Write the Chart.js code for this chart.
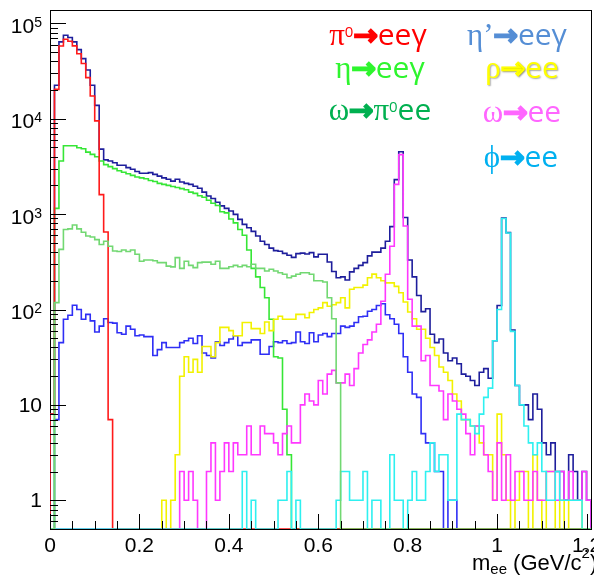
<!DOCTYPE html>
<html>
<head>
<meta charset="utf-8">
<script src="https://cdn.jsdelivr.net/npm/chart.js@4/dist/chart.umd.min.js"></script>
<style>
  html, body { margin: 0; padding: 0; background: #fff; }
  canvas { display: block; }
</style>
</head>
<body>
<canvas id="mee" width="594" height="577"></canvas>
<script>
// m_ee histograms, 0.01 GeV/c^2 bins starting at 0
const binWidth = 0.01;
const xMax = 1.21;
const yMin = 0.5;
const yMax = 1.38e5;

const pi0Eeg = [
  8, 20300, 57800, 68000, 65000, 58000, 48000, 38000, 27000, 17300,
  9500, 1600, 650, 7, 0, 0, 0, 0, 0, 0,
  0, 0, 0, 0, 0, 0, 0, 0, 0, 0,
  0, 0, 0, 0, 0, 0, 0, 0, 0, 0,
  0, 0, 0, 0, 0, 0, 0, 0, 0, 0,
  0, 0, 0, 0, 0, 0, 0, 0, 0, 0,
  0, 0, 0, 0, 0, 0, 0, 0, 0, 0,
  0, 0, 0, 0, 0, 0, 0, 0, 0, 0,
  0, 0, 0, 0, 0, 0, 0, 0, 0, 0,
  0, 0, 0, 0, 0, 0, 0, 0, 0, 0,
  0, 0, 0, 0, 0, 0, 0, 0, 0, 0,
  0, 0, 0, 0, 0, 0, 0, 0, 0, 0,
  0
];
const etaEeg = [
  0, 1150, 3600, 5200, 5200, 5200, 4970, 4850, 4470, 4230,
  4000, 3600, 3300, 3150, 3000, 2850, 2750, 2650, 2550, 2450,
  2400, 2350, 2250, 2200, 2100, 2050, 2000, 1950, 1900, 1850,
  1800, 1700, 1650, 1560, 1500, 1400, 1300, 1230, 1060, 1030,
  890, 810, 690, 600, 420, 270, 220, 170, 133, 79,
  32, 31, 9, 3, 0, 0, 0, 0, 0, 0,
  0, 0, 0, 0, 0, 0, 0, 0, 0, 0,
  0, 0, 0, 0, 0, 0, 0, 0, 0, 0,
  0, 0, 0, 0, 0, 0, 0, 0, 0, 0,
  0, 0, 0, 0, 0, 0, 0, 0, 0, 0,
  0, 0, 0, 0, 0, 0, 0, 0, 0, 0,
  0, 0, 0, 0, 0, 0, 0, 0, 0, 0,
  0
];
const omegaPi0ee = [
  0, 118, 427, 690, 700, 770, 700, 645, 590, 575,
  540, 480, 520, 460, 410, 405, 420, 405, 420, 380,
  320, 330, 330, 325, 310, 310, 285, 280, 350, 270,
  320, 290, 275, 310, 314, 314, 298, 320, 270, 270,
  281, 290, 281, 290, 281, 298, 270, 270, 253, 264,
  253, 243, 234, 215, 224, 234, 243, 243, 234, 200,
  200, 194, 133, 80, 17, 0, 0, 0, 0, 0,
  0, 0, 0, 0, 0, 0, 0, 0, 0, 0,
  0, 0, 0, 0, 0, 0, 0, 0, 0, 0,
  0, 0, 0, 0, 0, 0, 0, 0, 0, 0,
  0, 0, 0, 0, 0, 0, 0, 0, 0, 0,
  0, 0, 0, 0, 0, 0, 0, 0, 0, 0,
  0
];
const etaPrimeEeg = [
  0, 7, 45, 79, 87, 111, 100, 79, 89, 76,
  58, 67, 80, 73, 72, 57, 55, 67, 62, 53,
  54, 52, 52, 33, 38, 45, 40, 40, 40, 45,
  47, 50, 44, 53, 35, 33, 31, 46, 42, 45,
  49, 53, 42, 45, 45, 48, 48, 34, 34, 41,
  46, 45, 47, 44, 45, 58, 46, 44, 57, 46,
  54, 56, 52, 56, 56, 67, 65, 67, 73, 84,
  85, 96, 100, 110, 115, 88, 80, 70, 56, 32,
  22, 13, 12, 5, 4, 4, 2, 2, 0, 1,
  1, 0, 0, 0, 0, 0, 0, 0, 0, 0,
  0, 0, 0, 0, 0, 0, 0, 0, 0, 0,
  0, 0, 0, 0, 0, 0, 0, 0, 0, 0,
  0
];
const rhoEe = [
  0, 0, 0, 0, 0, 0, 0, 0, 0, 0,
  0, 0, 0, 0, 0, 0, 0, 0, 0, 0,
  0, 0, 0, 0, 0, 1, 0, 1, 3, 20,
  32, 22, 30, 22, 41, 41, 32, 45, 65, 65,
  60, 53, 53, 73, 73, 63, 63, 56, 74, 60,
  79, 85, 79, 79, 79, 89, 89, 82, 93, 100,
  104, 118, 108, 112, 118, 133, 104, 163, 170, 170,
  180, 215, 235, 215, 200, 190, 190, 175, 150, 120,
  94, 80, 62, 62, 50, 40, 33, 25, 22, 18,
  13, 11, 7, 7, 6, 6, 4, 3, 3, 1,
  8, 3, 1, 0, 1, 2, 2, 0, 3, 1,
  0, 2, 2, 0, 1, 0, 1, 1, 1, 0,
  0
];
const omegaEe = [
  0, 0, 0, 0, 0, 0, 0, 0, 0, 0,
  0, 0, 0, 0, 0, 0, 0, 0, 0, 0,
  0, 0, 0, 0, 0, 0, 0, 0, 0, 2,
  1, 2, 1, 0, 0, 2, 4, 1, 2, 4,
  2, 4, 3, 3, 6, 3, 3, 6, 5, 5,
  4, 3, 5, 6, 4, 4, 10, 13, 11, 10,
  18, 13, 21, 23, 17, 17, 21, 16, 24, 35,
  43, 48, 58, 70, 122, 234, 460, 2050, 4200, 750,
  128, 67, 67, 29, 33, 16, 16, 14, 7, 13,
  11, 9, 8, 5, 3, 6, 6, 3, 2, 1,
  4, 1, 3, 1, 2, 2, 1, 1, 2, 1,
  1, 2, 2, 1, 2, 1, 2, 1, 1, 2,
  1
];
const phiEe = [
  0, 0, 0, 0, 0, 0, 0, 0, 0, 0,
  0, 0, 0, 0, 0, 0, 0, 0, 0, 0,
  0, 0, 0, 0, 0, 0, 0, 0, 0, 0,
  0, 0, 0, 0, 0, 0, 0, 0, 0, 0,
  0, 0, 0, 2, 0, 1, 0, 0, 0, 0,
  0, 1, 1, 2, 0, 1, 0, 0, 0, 0,
  0, 0, 0, 0, 1, 2, 2, 1, 1, 1,
  2, 0, 1, 1, 0, 0, 3, 1, 1, 0,
  1, 2, 1, 1, 2, 4, 2, 3, 3, 1,
  1, 8, 7, 7, 6, 5, 8, 12, 15, 47,
  100, 900, 635, 59, 16, 10, 6, 4, 3, 4,
  2, 1, 1, 2, 1, 1, 1, 1, 1, 0,
  0
];
const total = [
  8, 22400, 64000, 75000, 71000, 64000, 53000, 42700, 32400, 22400,
  13800, 4800, 3700, 3600, 3450, 3250, 3250, 3070, 2950, 2800,
  2680, 2680, 2720, 2610, 2500, 2400, 2320, 2220, 2320, 2170,
  2100, 2050, 1960, 1870, 1700, 1550, 1460, 1330, 1220, 1150,
  1080, 995, 880, 780, 720, 660, 590, 520, 480, 440,
  414, 408, 388, 370, 352, 385, 390, 382, 395, 356,
  380, 380, 315, 250, 215, 220, 204, 248, 270, 290,
  310, 365, 400, 400, 440, 520, 740, 2300, 4500, 920,
  330, 220, 140, 95, 102, 55, 45, 49, 35, 29,
  31, 27, 21, 20, 18, 16, 22, 24, 19, 47,
  110, 910, 640, 61, 16, 10, 10, 7, 13, 9,
  4, 3, 4, 2, 2, 1, 3, 2, 1, 2,
  1
];

const xMajorTicks = [0, 0.2, 0.4, 0.6, 0.8, 1.0, 1.2];
const xTickLabels = ["0", "0.2", "0.4", "0.6", "0.8", "1", "1.2"];
const xMinorStep = 0.05;
const yMajorTicks = [1, 10, 100, 1000, 10000, 100000];
const yTickBase = ["1", "10", "10", "10", "10", "10"];
const yTickExp = ["", "", "2", "3", "4", "5"];

const legendRows = [
  { cx: 378, base: 45, color: "#ff0000", parts: [["π", "greek"], ["0", "sup"], ["→", "arrow"], ["eeγ", "sans"]] },
  { cx: 380, base: 78, color: "#2ef52e", parts: [["η", "greek"], ["→", "arrow"], ["eeγ", "sans"]] },
  { cx: 380, base: 120, color: "#00b050", parts: [["ω", "greek"], ["→", "arrow"], ["π", "greek"], ["0", "sup"], ["ee", "sans"]] },
  { cx: 517, base: 45, color: "#558ed5", parts: [["η’", "greek"], ["→", "arrow"], ["eeγ", "sans"]] },
  { cx: 522, base: 78, color: "#ffff00", shadow: true, parts: [["ρ", "greek"], ["→", "arrow"], ["ee", "sans"]] },
  { cx: 522, base: 122, color: "#ff66ff", parts: [["ω", "greek"], ["→", "arrow"], ["ee", "sans"]] },
  { cx: 521, base: 167, color: "#00b0f0", parts: [["ϕ", "greek"], ["→", "arrow"], ["ee", "sans"]] }
];

const partFonts = {
  greek: { font: '31px "Liberation Serif"', dy: 0 },
  sup: { font: '15px "Open Sans"', dy: -8 },
  arrow: { font: '29px "DejaVu Sans"', dy: 0 },
  sans: { font: '30px "Open Sans"', dy: 0 }
};

function histPoints(counts) {
  const pts = [{ x: 0, y: yMin }];
  counts.forEach((c, i) => pts.push({ x: i * binWidth, y: c > 0 ? c : yMin }));
  pts.push({ x: counts.length * binWidth, y: yMin });
  return pts;
}

function histSet(counts, color) {
  return {
    data: histPoints(counts),
    borderColor: color,
    borderWidth: 1.6,
    pointRadius: 0,
    fill: false,
    stepped: true,
    tension: 0
  };
}

function drawSegments(ctx, parts, x, base, fonts) {
  parts.forEach(([text, kind]) => {
    const f = fonts[kind];
    ctx.font = f.font;
    ctx.fillText(text, x, base + f.dy);
    if (kind === "arrow") {
      ctx.lineWidth = 2.2;
      ctx.lineJoin = "miter";
      ctx.strokeText(text, x, base + f.dy);
    }
    x += ctx.measureText(text).width;
  });
}

function segmentsWidth(ctx, parts, fonts) {
  let w = 0;
  parts.forEach(([text, kind]) => {
    ctx.font = fonts[kind].font;
    w += ctx.measureText(text).width;
  });
  return w;
}

const rootFrame = {
  id: "rootFrame",
  beforeDatasetsDraw(chart) {
    const { ctx, chartArea: a } = chart;
    ctx.save();
    ctx.strokeStyle = "#000";
    ctx.lineWidth = 1;
    ctx.strokeRect(a.left + 0.5, a.top + 0.5, a.right - a.left, a.bottom - a.top);
    ctx.restore();
  },
  afterDraw(chart) {
    const { ctx, chartArea: a, scales } = chart;
    const xs = scales.x, ys = scales.y;
    ctx.save();
    ctx.strokeStyle = "#000";
    ctx.lineWidth = 1;

    // x ticks, pointing up into the frame
    ctx.beginPath();
    for (let i = 0; i * xMinorStep <= xMax + 1e-9; i++) {
      const v = i * xMinorStep;
      const px = Math.round(xs.getPixelForValue(v)) + 0.5;
      const major = xMajorTicks.some(t => Math.abs(t - v) < 1e-6);
      ctx.moveTo(px, a.bottom);
      ctx.lineTo(px, a.bottom - (major ? 15 : 8));
    }
    // y ticks, log decades with minor 2..9
    for (let e = -1; e <= 5; e++) {
      for (let m = 1; m <= 9; m++) {
        const v = m * Math.pow(10, e);
        if (v <= yMin || v >= yMax) continue;
        const py = Math.round(ys.getPixelForValue(v)) + 0.5;
        ctx.moveTo(a.left, py);
        ctx.lineTo(a.left + (m === 1 ? 16 : 8), py);
      }
    }
    ctx.stroke();

    ctx.fillStyle = "#000";
    ctx.font = '21px "Liberation Sans"';
    ctx.textAlign = "center";
    ctx.textBaseline = "alphabetic";
    xMajorTicks.forEach((v, i) => {
      ctx.fillText(xTickLabels[i], xs.getPixelForValue(v), 552);
    });

    ctx.textAlign = "right";
    yMajorTicks.forEach((v, i) => {
      const py = ys.getPixelForValue(v);
      if (yTickExp[i]) {
        ctx.font = '14px "Liberation Sans"';
        const ew = ctx.measureText(yTickExp[i]).width;
        ctx.fillText(yTickExp[i], 42, py + 3.5);
        ctx.font = '21px "Liberation Sans"';
        ctx.fillText(yTickBase[i], 42 - ew, py + 9.5);
      } else {
        ctx.font = '21px "Liberation Sans"';
        ctx.fillText(yTickBase[i], 42, py + 7);
      }
    });

    // axis title m_ee (GeV/c^2)
    ctx.textAlign = "left";
    const titleFonts = {
      main: { font: '22px "Liberation Sans"', dy: 0 },
      sub: { font: '15px "Liberation Sans"', dy: 4 },
      sup: { font: '15px "Liberation Sans"', dy: -12 }
    };
    drawSegments(ctx, [["m", "main"], ["ee", "sub"], [" (GeV/c", "main"], ["2", "sup"], [")", "main"]],
      472, 570, titleFonts);

    // decay-channel labels
    legendRows.forEach(row => {
      ctx.save();
      ctx.fillStyle = row.color;
      ctx.strokeStyle = row.color;
      if (row.shadow) {
        ctx.shadowColor = "rgba(0,0,0,0.35)";
        ctx.shadowOffsetX = 1;
        ctx.shadowOffsetY = 1;
        ctx.shadowBlur = 1.5;
      }
      const w = segmentsWidth(ctx, row.parts, partFonts);
      drawSegments(ctx, row.parts, row.cx - w / 2, row.base, partFonts);
      ctx.restore();
    });
    ctx.restore();
  }
};

new Chart(document.getElementById("mee"), {
  type: "line",
  data: {
    datasets: [
      histSet(omegaPi0ee, "#72d872"),
      histSet(phiEe, "#2ef0f0"),
      histSet(pi0Eeg, "#ff1a1a"),
      histSet(omegaEe, "#ff38ff"),
      histSet(rhoEe, "#f2f200"),
      histSet(etaEeg, "#36e636"),
      histSet(etaPrimeEeg, "#2f2ff5"),
      histSet(total, "#1e1e9c")
    ]
  },
  options: {
    responsive: false,
    animation: false,
    devicePixelRatio: 1,
    layout: { padding: { left: 50, top: 10, right: 3, bottom: 48 } },
    scales: {
      x: { type: "linear", min: 0, max: xMax, display: false },
      y: { type: "logarithmic", min: yMin, max: yMax, display: false }
    },
    plugins: {
      legend: { display: false },
      tooltip: { enabled: false }
    }
  },
  plugins: [rootFrame]
});
</script>
</body>
</html>
